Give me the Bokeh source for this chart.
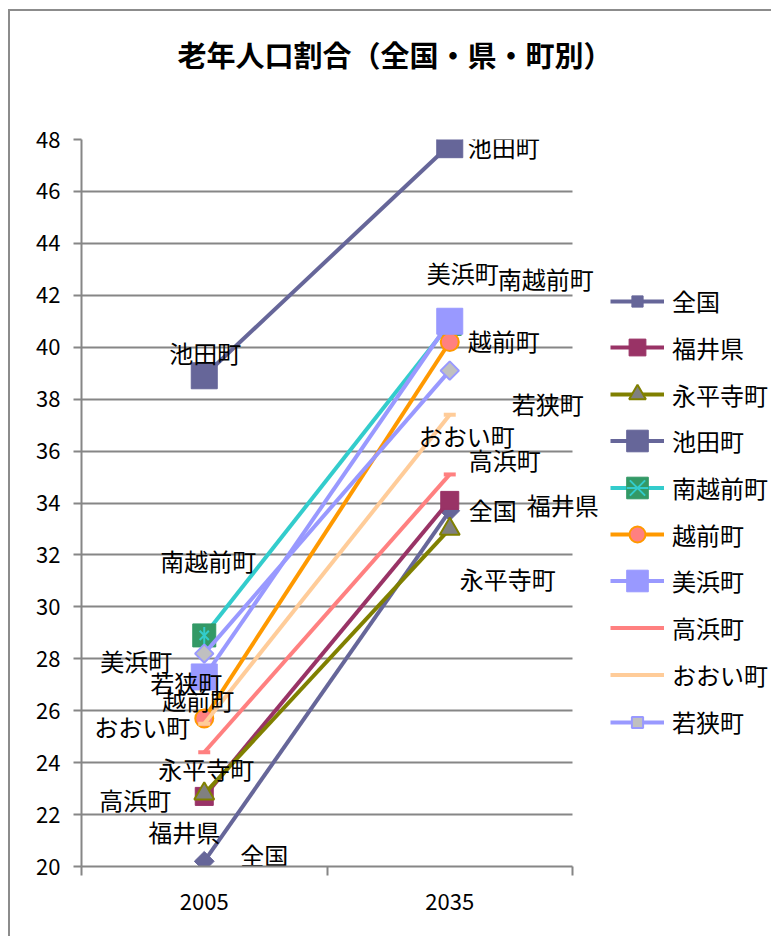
import math
from bokeh.plotting import figure
from bokeh.models import (Range1d, LinearAxis, FixedTicker, SingleIntervalTicker, Grid, Title,
                          Legend, LegendItem, ColumnDataSource)
from bokeh.core.properties import value
from bokeh.embed import file_html
from bokeh.resources import INLINE

# ---------------- data ----------------
years = ["2005", "2035"]
series_names = ["全国", "福井県", "永平寺町", "池田町", "南越前町",
                "越前町", "美浜町", "高浜町", "おおい町", "若狭町"]
zenkoku = [20.2, 33.7]
fukui_ken = [22.7, 34.1]
eiheiji = [22.8, 33.0]
ikeda = [38.9, 47.8]
minami_echizen = [28.9, 40.9]
echizen = [25.7, 40.2]
mihama = [27.3, 41.0]
takahama = [24.4, 35.1]
ooi = [25.5, 37.4]
wakasa = [28.2, 39.1]
series_values = [zenkoku, fukui_ken, eiheiji, ikeda, minami_echizen,
                 echizen, mihama, takahama, ooi, wakasa]
y_min, y_max, y_step = 20, 48, 2
title_text = "老年人口割合（全国・県・町別）"

# ---------------- styles ----------------
FONT = "Noto Sans CJK JP"
GRID = "#868686"
line_colors = ["#666699", "#993366", "#808000", "#666699", "#33CCCC",
               "#FF9900", "#9999FF", "#FF8080", "#FFCC99", "#9999FF"]
# marker specs: (marker, size, angle, fill, line, line_width)
marker_specs = [
    [("square", 14, math.pi / 4, "#666699", "#666699", 1)],
    [("square", 18, 0, "#993366", "#993366", 1)],
    [("triangle", 20, 0, "#808080", "#808000", 2)],
    [("square", 26, 0, "#666699", "#666699", 1)],
    [("square", 23, 0, "#339966", "#339966", 1),
     ("x", 13, 0, None, "#33CCCC", 2),
     ("dash", 17, math.pi / 2, None, "#33CCCC", 2)],
    [("circle", 18, 0, "#FF8080", "#FF9900", 2)],
    [("square", 26, 0, "#9999FF", "#9999FF", 1)],
    [("dash", 12, 0, None, "#FF8080", 4)],
    [("dash", 12, 0, None, "#FFCC99", 4)],
    [("square", 13, math.pi / 4, "#C0C0C0", "#9999FF", 2)],
]
# legend glyph box heights (legend markers are drawn at 0.4 x box size)
legend_glyph_h = [28, 42, 42, 55, 55, 40, 55, 35, 35, 28]
LEG_X, LEG_Y0, LEG_STEP, LEG_LABEL_H = 529, 289, 46.8, 35
# data label offsets in screen px (dx, dy; dy > 0 is downwards)
label_off_2005 = [(60, -7), (-20, 35), (2, -25), (1, -23), (4, -75),
                  (-6, -19), (-68, -16), (-69, 47), (-62, 3), (-18, 29)]
label_off_2035 = [(43, -1), (113, 4), (58, 50), (54, 2), (96, -45),
                  (54, -2), (13, -49), (55, -15), (17, 21), (98, 33)]

# layout (canvas px)
W, H = 763, 927
FL, FT, FB = 71, 128, 72          # frame left / top / bottom borders
CAT_W = 245.5                     # width of one category band
frame_w = W - FL
frame_bottom = H - FB

# category centres / boundaries on the numeric x scale
xpos = {yr: i + 0.5 for i, yr in enumerate(years)}
bounds = [float(i) for i in range(len(years) + 1)]

p = figure(width=W, height=H,
           x_range=Range1d(0, frame_w / CAT_W), y_range=Range1d(y_min, y_max),
           x_axis_type=None, output_backend="svg", toolbar_location=None,
           min_border_left=FL, min_border_right=0, min_border_top=FT, min_border_bottom=FB)
p.outline_line_color = None
p.background_fill_color = "white"
p.border_fill_color = "white"
p.styles = {"margin-left": "8px", "margin-top": "9px",
            "border-left": "2px solid #8c8c8c", "border-top": "2px solid #8c8c8c"}

# blank (white) spacer title between the frame and the main title
p.add_layout(Title(text=" ", text_color="white", text_font_size="10px", standoff=47), "above")

p.title.text = title_text
p.title.text_font = FONT
p.title.text_font_size = "29px"
p.title.text_font_style = "bold"
p.title.text_color = "black"
p.title.align = "left"
p.title.offset = 96
p.title.standoff = 10

# y axis
yax = p.yaxis[0]
yax.ticker = SingleIntervalTicker(interval=y_step, num_minor_ticks=0)
yax.axis_line_color = GRID
yax.axis_line_width = 2
yax.major_tick_line_color = GRID
yax.major_tick_line_width = 2
yax.major_tick_out = 8
yax.major_tick_in = 0
yax.minor_tick_line_color = None
yax.major_label_text_font = FONT
yax.major_label_text_font_size = "22px"
yax.major_label_text_color = "black"
yax.major_label_standoff = 13

p.ygrid.grid_line_color = GRID
p.ygrid.grid_line_width = 2
p.ygrid.ticker = yax.ticker
if "cross_bounds" in Grid.properties():
    p.ygrid.cross_bounds = (bounds[0], bounds[-1])

# x axis: labels at category centres, ticks at category boundaries
centres = [xpos[y] for y in years]
xax = LinearAxis(ticker=FixedTicker(ticks=centres, minor_ticks=bounds),
                 major_label_overrides={xpos[y]: y for y in years},
                 bounds=(bounds[0], bounds[-1]))
xax.axis_line_color = GRID
xax.axis_line_width = 2
xax.major_tick_line_color = None
xax.major_tick_out = 0
xax.major_tick_in = 0
xax.minor_tick_line_color = GRID
xax.minor_tick_line_width = 2
xax.minor_tick_out = 9
xax.minor_tick_in = 0
xax.major_label_text_font = FONT
xax.major_label_text_font_size = "22px"
xax.major_label_text_color = "black"
xax.major_label_standoff = 18
p.add_layout(xax, "below")

series_renderers = []
for name, vals, lc, specs in zip(series_names, series_values, line_colors, marker_specs):
    src = ColumnDataSource(dict(x=[xpos[y] for y in years], y=vals))
    rs = [p.line("x", "y", source=src, line_color=lc, line_width=4)]
    for (mk, sz, ang, fc, mlc, lw) in specs:
        rs.append(p.scatter("x", "y", source=src, marker=mk, size=sz, angle=ang,
                            fill_color=fc, line_color=mlc, line_width=lw))
    series_renderers.append(rs)

# data labels
lx, ly, lt, ldx, ldy = [], [], [], [], []
for name, vals, o5, o35 in zip(series_names, series_values, label_off_2005, label_off_2035):
    for yr, v, o in zip(years, vals, (o5, o35)):
        lx.append(xpos[yr]); ly.append(v); lt.append(name); ldx.append(o[0]); ldy.append(o[1])
lsrc = ColumnDataSource(dict(x=lx, y=ly, text=lt, dx=ldx, dy=ldy))
p.text("x", "y", text="text", source=lsrc, x_offset="dx", y_offset="dy",
       text_font=value(FONT), text_font_size="24px", text_color="black",
       text_align="center", text_baseline="middle")

# legend: one single-entry legend per series so each marker gets its own size
for i, (name, rs, gh) in enumerate(zip(series_names, series_renderers, legend_glyph_h)):
    yc = LEG_Y0 + i * LEG_STEP
    row_h = max(gh, LEG_LABEL_H)
    top = yc - row_h / 2
    loc_y = frame_bottom - (top + row_h)
    leg = Legend(items=[LegendItem(label=name, renderers=rs)],
                 location=(LEG_X, round(loc_y)), orientation="vertical",
                 glyph_width=54, glyph_height=gh, label_height=20, spacing=0,
                 label_standoff=8, padding=0, margin=0,
                 border_line_color=None, background_fill_alpha=0,
                 label_text_font=FONT, label_text_font_size="24px",
                 label_text_color="black", label_text_baseline="middle")
    p.add_layout(leg, "center")

open("out.html", "w").write(file_html(p, INLINE))
